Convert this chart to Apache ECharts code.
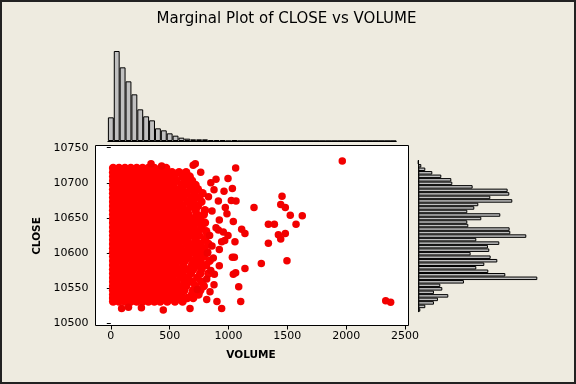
<!DOCTYPE html>
<html><head><meta charset="utf-8">
<script src="https://cdn.jsdelivr.net/npm/echarts@6/dist/echarts.min.js"></script>
<style>html,body{margin:0;padding:0;background:#EEEBE0}#c{width:576px;height:384px}</style>
</head><body><div id="c"></div>
<script>
const chartTitle = 'Marginal Plot of CLOSE vs VOLUME';
const xName = 'VOLUME';
const yName = 'CLOSE';
const xTicks = [0, 500, 1000, 1500, 2000, 2500];
const yTicks = [10500, 10550, 10600, 10650, 10700, 10750];

// dense core of the scatter: one close level per row, volumes observed on that row
const closeLevels = [10531,10536,10541,10547,10553,10559,10565,10571,10577,10583,10589,10595,10601,10607,10613,10619,10625,10631,10637,10643,10649,10655,10661,10667,10673,10679,10685,10691,10697,10703,10709,10715,10721];
const volumesByLevel = [
 [20,70,120,170,220,270,320,370,420,480,545,610],
 [20,45,95,145,195,245,295,345,395,445,500,560,650,700],
 [20,70,120,170,220,270,320,370,420,470,530,600,690,745],
 [20,45,95,145,195,245,295,345,395,445,495,560,625,700,760],
 [20,70,120,170,220,270,320,370,420,470,520,580,640,720,790],
 [20,45,95,145,195,245,295,345,395,445,495,555,630,690,770],
 [20,70,120,170,220,270,320,370,420,470,520,590,655,735],
 [20,45,95,145,195,245,295,345,395,445,495,545,610,680,760,830],
 [20,70,120,170,220,270,320,370,420,470,520,570,640,700,770],
 [20,45,95,145,195,245,295,345,395,445,495,545,615,690,745,810],
 [20,70,120,170,220,270,320,370,420,470,520,570,630,700,760,840],
 [20,45,95,145,195,245,295,345,395,445,495,545,595,660,730,790],
 [20,70,120,170,220,270,320,370,420,470,520,570,620,690,750,820],
 [20,45,95,145,195,245,295,345,395,445,495,545,595,665,720,790],
 [20,70,120,170,220,270,320,370,420,470,520,570,640,700,760,830],
 [20,45,95,145,195,245,295,345,395,445,495,545,595,650,720,800],
 [20,70,120,170,220,270,320,370,420,470,520,570,630,690,750,820],
 [20,45,95,145,195,245,295,345,395,445,495,545,615,680,740,810],
 [20,70,120,170,220,270,320,370,420,470,520,570,640,700,770],
 [20,45,95,145,195,245,295,345,395,445,495,545,610,670,740,800],
 [20,70,120,170,220,270,320,370,420,470,520,570,630,700,760],
 [20,45,95,145,195,245,295,345,395,445,495,545,600,660,730,790],
 [20,70,120,170,220,270,320,370,420,470,520,590,650,720,800],
 [20,45,95,145,195,245,295,345,395,445,495,545,610,680,740],
 [20,70,120,170,220,270,320,370,420,470,520,580,650,700,770],
 [20,45,95,145,195,245,295,345,395,445,495,560,620,690,750],
 [20,70,120,170,220,270,320,370,420,470,520,580,640,710,780],
 [20,45,95,145,195,245,295,345,395,445,495,550,610,680,740],
 [20,70,120,170,220,270,320,370,420,470,530,600,660,720],
 [20,45,95,145,195,245,295,345,395,445,500,560,630,690],
 [20,70,120,170,220,270,320,370,420,480,540,610,670],
 [20,45,95,145,195,245,295,345,395,450,520,580,640],
 [20,70,120,170,220,270,320,370,430,470]
];
// sparser points outside the core
const outVolume = [342,432,700,718,1061,764,894,996,850,1033,962,877,914,1024,1064,830,973,860,987,922,1041,894,914,956,1112,1140,996,840,968,942,1055,860,922,820,871,1033,1050,922,850,880,1041,1061,1140,815,877,843,1087,735,815,902,1104,942,673,446,92,150,260,1217,1455,1444,1483,1525,1627,1574,1339,1390,1424,1444,1483,1339,1497,1279,1967,2336,2378];
const outClose  = [10727,10724,10725,10727,10721,10715,10705,10706,10700,10692,10688,10690,10674,10675,10674,10680,10665,10660,10656,10647,10645,10636,10633,10630,10634,10628,10625,10625,10618,10616,10616,10610,10605,10600,10593,10594,10594,10582,10575,10570,10570,10572,10578,10563,10555,10545,10552,10548,10534,10531,10531,10521,10521,10519,10521,10523,10522,10665,10681,10669,10665,10654,10653,10641,10641,10641,10626,10620,10628,10614,10589,10585,10731,10532,10530];

// marginal histogram of VOLUME (bin centres, bar heights)
const volumeBins = [0,50,100,150,200,250,300,350,400,450,500,550,600,650,700,750,800,850,900,950,1000,1050,1100,1150,1200,1250,1300,1350,1400,1450,1500,1550,1600,1650,1700,1750,1800,1850,1900,1950,2000,2050,2100,2150,2200,2250,2300,2350,2400];
const volumeCounts = [71,270,221,179,140,95,74,62,38,32,23,16,10,7,5,5,5,3,3,3,0,3,0,0,0,0,0,0,0,0,0,0,0,0,0,0,0,0,0,0,0,0,0,0,0,0,0,0,0];
// marginal histogram of CLOSE (bin centres, bar lengths)
const closeBins = [10520,10525,10530,10535,10540,10545,10550,10555,10560,10565,10570,10575,10580,10585,10590,10595,10600,10605,10610,10615,10620,10625,10630,10635,10640,10645,10650,10655,10660,10665,10670,10675,10680,10685,10690,10695,10700,10705,10710,10715,10720,10725,10730];
const closeCounts = [6,21,47,59,90,47,72,66,137,357,261,210,174,198,237,217,157,213,209,243,174,324,276,274,150,147,189,246,147,168,180,282,216,273,268,163,102,99,69,42,21,9,0];

const coreData = [];
closeLevels.forEach((c, i) => volumesByLevel[i].forEach(v => coreData.push([v, c])));
const outData = outVolume.map((v, i) => [v, outClose[i]]);

const font = 'DejaVu Sans';
const chart = echarts.init(document.getElementById('c'), null, {renderer: 'canvas'});
chart.setOption({
  animation: false,
  backgroundColor: '#EEEBE0',
  grid: [
    {left: 110.8, top: 147.7, width: 294.2, height: 175.6, outerBoundsMode: 'none'},
    {left: 107.9, top: 45, width: 288.3, height: 96, outerBoundsMode: 'none'},
    {left: 418.3, top: 160.5, width: 130, height: 151.2, outerBoundsMode: 'none'}
  ],
  xAxis: [
    {type: 'value', gridIndex: 0, min: xTicks[0], max: xTicks[xTicks.length-1], interval: xTicks[1]-xTicks[0],
     offset: 2.2, axisLine: {show: false}, splitLine: {show: false},
     axisTick: {show: true, length: 4, lineStyle: {color: '#000'}},
     axisLabel: {margin: 5, color: '#000', fontFamily: font, fontSize: 11, formatter: v => String(v)}},
    {type: 'category', gridIndex: 1, data: volumeBins, boundaryGap: true,
     axisLine: {show: true, lineStyle: {color: '#000', width: 1}}, axisTick: {show: false}, axisLabel: {show: false}, splitLine: {show: false}},
    {type: 'value', gridIndex: 2, min: 0, max: 390, show: false}
  ],
  yAxis: [
    {type: 'value', gridIndex: 0, min: yTicks[0], max: yTicks[yTicks.length-1], interval: yTicks[1]-yTicks[0],
     offset: 15.3, axisLine: {show: false}, splitLine: {show: false},
     axisTick: {show: true, length: 4, lineStyle: {color: '#000'}},
     axisLabel: {margin: 7, color: '#000', fontFamily: font, fontSize: 11, formatter: v => String(v)}},
    {type: 'value', gridIndex: 1, min: 0, max: 288, show: false},
    {type: 'category', gridIndex: 2, data: closeBins, boundaryGap: true,
     axisLine: {show: true, lineStyle: {color: '#000', width: 1}}, axisTick: {show: false}, axisLabel: {show: false}, splitLine: {show: false}}
  ],
  graphic: [
    {type: 'rect', z: -10, shape: {x: 95.5, y: 145.5, width: 313, height: 180}, style: {fill: '#FFFFFF', stroke: '#000', lineWidth: 1}},
    {type: 'rect', z: 100, shape: {x: 1, y: 1, width: 574, height: 382}, style: {fill: 'none', stroke: '#222', lineWidth: 2}},
    {type: 'text', z: 100, x: 286.5, y: 19, style: {text: chartTitle, fill: '#000', font: '15px "DejaVu Sans"', align: 'center', verticalAlign: 'middle'}},
    {type: 'text', z: 100, x: 251, y: 355, style: {text: xName, fill: '#000', font: 'bold 10.5px "DejaVu Sans"', align: 'center', verticalAlign: 'middle'}},
    {type: 'text', z: 100, x: 37, y: 236, rotation: Math.PI/2, style: {text: yName, fill: '#000', font: 'bold 10.5px "DejaVu Sans"', align: 'center', verticalAlign: 'middle'}}
  ],
  series: [
    {type: 'scatter', xAxisIndex: 0, yAxisIndex: 0, data: coreData, symbol: 'circle', symbolSize: 8.5, clip: false,
     itemStyle: {color: '#FF0000', opacity: 1}, emphasis: {disabled: true}},
    {type: 'scatter', xAxisIndex: 0, yAxisIndex: 0, data: outData, symbol: 'circle', symbolSize: 7.5, clip: false,
     itemStyle: {color: '#F20000', opacity: 1}, emphasis: {disabled: true}},
    {type: 'bar', xAxisIndex: 1, yAxisIndex: 1, data: volumeCounts, barCategoryGap: '0%',
     itemStyle: {color: '#C0C0C0', borderColor: '#000', borderWidth: 1}},
    {type: 'bar', xAxisIndex: 2, yAxisIndex: 2, data: closeCounts, barCategoryGap: '0%',
     itemStyle: {color: '#C0C0C0', borderColor: '#000', borderWidth: 1}}
  ]
});
</script></body></html>
